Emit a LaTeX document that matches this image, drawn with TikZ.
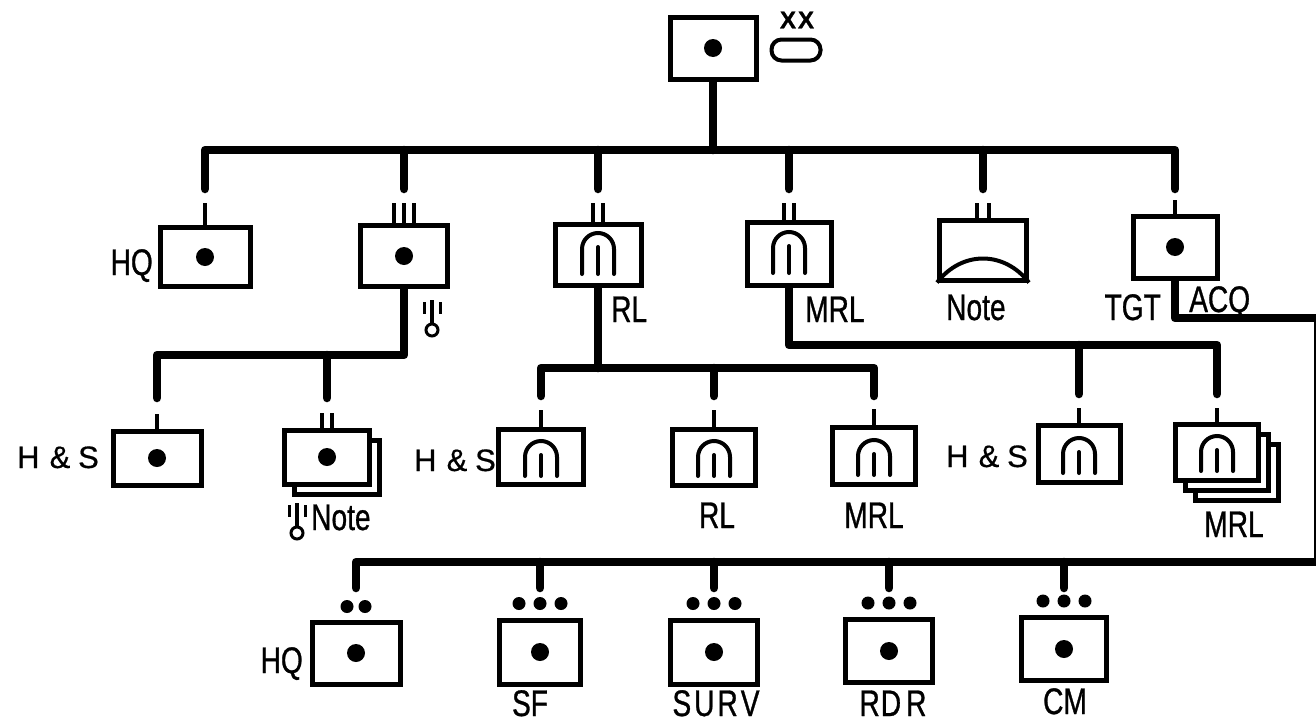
\documentclass[tikz,border=0pt]{standalone}
\usepackage{fontspec}
\setmainfont{Liberation Sans}
\newfontfamily\lab{Liberation Sans}[FakeStretch=0.76,FakeBold=0.8]
\newfontfamily\labhs{Liberation Sans}[FakeBold=0.6]
\newfontfamily\labxx{Liberation Sans Bold}[FakeBold=1]
\newcommand\labfont{\lab\fontsize{37}{40}\selectfont}
\newcommand\hsfont{\labhs\fontsize{31}{34}\selectfont}
\newcommand\hstext{H\hspace{0.33em}\&\hspace{0.25em}S}
\usetikzlibrary{backgrounds}
\newcommand\archsym[3]{\begin{scope}[shift={(#1.center)}]
 \draw[sym] (-16,#3) -- (-16,#2+16) arc (180:360:16) -- (16,#3);
 \draw[sym] (0,#2+14) -- (0,#3);
\end{scope}}
\newcommand\thermo[1]{\begin{scope}[shift={#1}]
 \draw[line width=3.5pt] (0,0) -- (0,23);
 \draw[line width=3pt] (0,30) circle (6);
 \draw[line width=3pt] (-8,2) -- (-8,14) (8,2) -- (8,14);
\end{scope}}
\begin{document}
\begin{tikzpicture}[x=1pt,y=-1pt,
 bus/.style={line width=8.5pt,line cap=round,line join=round},
 stub/.style={line width=3.5pt},
 ubox/.style={draw,line width=5pt,fill=white,inner sep=0pt},
 sym/.style={line width=4pt,line cap=round},
 lbl/.style={font=\labfont,inner sep=0pt},
 hs/.style={font=\hsfont,inner sep=0pt}]
\useasboundingbox (0,0) rectangle (1316,723);

% ---------- top unit ----------
\node[ubox,minimum width=86pt,minimum height=62pt] (top) at (713,48) {};
\node[draw,line width=4pt,rounded corners=10pt,minimum width=49pt,minimum height=21pt,inner sep=0pt] (oval) at (796,50) {};
\node[font=\labxx\fontsize{24}{26}\selectfont,inner sep=0pt] (xx) at (797,20) {X\hspace{2pt}X};

% ---------- row 1 ----------
\node[ubox,minimum width=90pt,minimum height=59pt] (hqA) at (205,257) {};
\node[ubox,minimum width=87pt,minimum height=61pt] (a2) at (404,256) {};
\node[ubox,minimum width=86pt,minimum height=61pt] (rlA) at (598,255) {};
\node[ubox,minimum width=84pt,minimum height=63pt] (mrlA) at (789,254) {};
\node[ubox,minimum width=87pt,minimum height=60pt] (noteA) at (983,250) {};
\node[ubox,minimum width=84pt,minimum height=62pt] (tgt) at (1175,247) {};

% ---------- row 2 ----------
\node[ubox,minimum width=88pt,minimum height=54pt] (hsL) at (157,458) {};
\node[ubox,minimum width=85pt,minimum height=54pt] (ntS2) at (337,467) {};
\node[ubox,minimum width=85pt,minimum height=54pt] (ntS) at (327,457) {};
\node[ubox,minimum width=85pt,minimum height=55pt] (hsM) at (541,457) {};
\node[ubox,minimum width=83pt,minimum height=56pt] (rlB) at (714,457) {};
\node[ubox,minimum width=83pt,minimum height=57pt] (mrlB) at (874,456) {};
\node[ubox,minimum width=82pt,minimum height=57pt] (hsR) at (1079,454) {};
\node[ubox,minimum width=83pt,minimum height=56pt] (mrlS3) at (1237,472) {};
\node[ubox,minimum width=83pt,minimum height=56pt] (mrlS2) at (1227,462) {};
\node[ubox,minimum width=83pt,minimum height=56pt] (mrlS) at (1217,452) {};

% ---------- row 3 ----------
\node[ubox,minimum width=88pt,minimum height=62pt] (hqC) at (356,653) {};
\node[ubox,minimum width=81pt,minimum height=64pt] (sf) at (540,652) {};
\node[ubox,minimum width=87pt,minimum height=64pt] (surv) at (714,652) {};
\node[ubox,minimum width=87pt,minimum height=63pt] (rdr) at (889,651) {};
\node[ubox,minimum width=85pt,minimum height=63pt] (cm) at (1064,649) {};

% ---------- connectors ----------
\coordinate (b1) at (713,150);
\coordinate (d1) at (0,189);
\coordinate (j2) at (404,355);
\coordinate (d2) at (0,398);
\coordinate (j3) at (598,368);
\coordinate (d3) at (0,396);
\coordinate (j4) at (789,345);
\coordinate (d4) at (0,394);
\coordinate (j5) at (1175,318);
\coordinate (e1) at (1318,318);
\coordinate (e2) at (1318,562);
\coordinate (d5) at (0,588);
\begin{scope}[on background layer]
\draw[bus] (top.south) -- (b1);
\draw[bus] (hqA.north |- d1) -- (hqA.north |- b1) -- (tgt.north |- b1) -- (tgt.north |- d1);
\foreach \n in {a2,rlA,mrlA,noteA} \draw[bus] (\n.north |- b1) -- (\n.north |- d1);
\draw[bus] (a2.south) -- (j2) -- (hsL.north |- j2) -- (hsL.north |- d2);
\draw[bus] (ntS.north |- j2) -- (ntS.north |- d2);
\draw[bus] (rlA.south) -- (j3);
\draw[bus] (hsM.north |- d3) -- (hsM.north |- j3) -- (mrlB.north |- j3) -- (mrlB.north |- d3);
\draw[bus] (rlB.north |- j3) -- (rlB.north |- d3);
\draw[bus] (mrlA.south) -- (j4) -- (mrlS.north |- j4) -- (mrlS.north |- d4);
\draw[bus] (hsR.north |- j4) -- (hsR.north |- d4);
\draw[bus] (tgt.south) -- (j5) -- (e1) -- (e2) -- (hqC.north |- e2) -- (hqC.north |- d5);
\foreach \n in {sf,surv,rdr,cm} \draw[bus] (\n.north |- e2) -- (\n.north |- d5);
\end{scope}

% stubs
\draw[stub] (hqA.north) -- ++(0,-22);
\foreach \dx in {-10,0,10} \draw[stub] ([xshift=\dx pt]a2.north) -- ++(0,-20);
\foreach \dx in {-5,5} \draw[stub] ([xshift=\dx pt]rlA.north) -- ++(0,-19);
\foreach \dx in {-5,5} \draw[stub] ([xshift=\dx pt]mrlA.north) -- ++(0,-17);
\foreach \dx in {-6,6} \draw[stub] ([xshift=\dx pt]noteA.north) -- ++(0,-15);
\draw[stub] (tgt.north) -- ++(0,-14);
\draw[stub] (hsL.north) -- ++(0,-15);
\foreach \dx in {-5,5} \draw[stub] ([xshift=\dx pt]ntS.north) -- ++(0,-15);
\draw[stub] (hsM.north) -- ++(0,-17);
\draw[stub] (rlB.north) -- ++(0,-17);
\draw[stub] (mrlB.north) -- ++(0,-16);
\draw[stub] (hsR.north) -- ++(0,-15);
\draw[stub] (mrlS.north) -- ++(0,-14);

% dots
\foreach \n in {top,hqA,a2,tgt,hsL,ntS,hqC,sf,surv,rdr,cm} \fill (\n.center) circle (9);
\foreach \dx in {-9,9} \fill ([xshift=\dx pt]hqC.north) ++(0,-13) circle (6.5);
\foreach \n in {sf,surv,rdr,cm} \foreach \dx in {-21,0,21} \fill ([xshift=\dx pt]\n.north) ++(0,-14) circle (6.5);

% symbols
\archsym{rlA}{-22}{19}
\archsym{mrlA}{-22}{19}
\archsym{hsM}{-16}{19}
\archsym{rlB}{-16}{19}
\archsym{mrlB}{-16}{19}
\archsym{hsR}{-16}{19}
\archsym{mrlS}{-16}{19}
\draw[line width=4pt] (noteA.south west) .. controls +(25,-32) and +(-25,-32) .. (noteA.south east);
\thermo{(432,300)}
\thermo{(297,503)}

% labels
\node[lbl,anchor=base east] (lhq1) at (153,275) {HQ};
\node[lbl,anchor=base west] (lrl1) at (611,322) {RL};
\node[lbl,anchor=base west] (lmrl1) at (805,322) {MRL};
\node[lbl,anchor=base west] (lnote1) at (946,320) {Note};
\node[lbl,anchor=base east] (ltgt) at (1161,320) {TGT};
\node[lbl,anchor=base west] (lacq) at (1189,312) {ACQ};
\node[hs,anchor=base east] (lhs1) at (99,468) {\hstext};
\node[hs,anchor=base east] (lhs2) at (496,471) {\hstext};
\node[hs,anchor=base east] (lhs3) at (1028,467) {\hstext};
\node[lbl,anchor=base west] (lnote2) at (311,530) {Note};
\node[lbl,anchor=base] (lrl2) at (717,528) {RL};
\node[lbl,anchor=base] (lmrl2) at (874,528) {MRL};
\node[lbl,anchor=base] (lmrl3) at (1234,537) {MRL};
\node[lbl,anchor=base east] (lhq3) at (303,673) {HQ};
\node[lbl,anchor=base] (lsf) at (530,716) {SF};
\node[lbl,anchor=base] (lsurv) at (716,716) {S\kern3pt U\kern3pt R\kern3pt V};
\node[lbl,anchor=base] (lrdr) at (893,716) {R\kern1pt D\kern5pt R};
\node[lbl,anchor=base] (lcm) at (1065,714) {CM};
\end{tikzpicture}
\end{document}
